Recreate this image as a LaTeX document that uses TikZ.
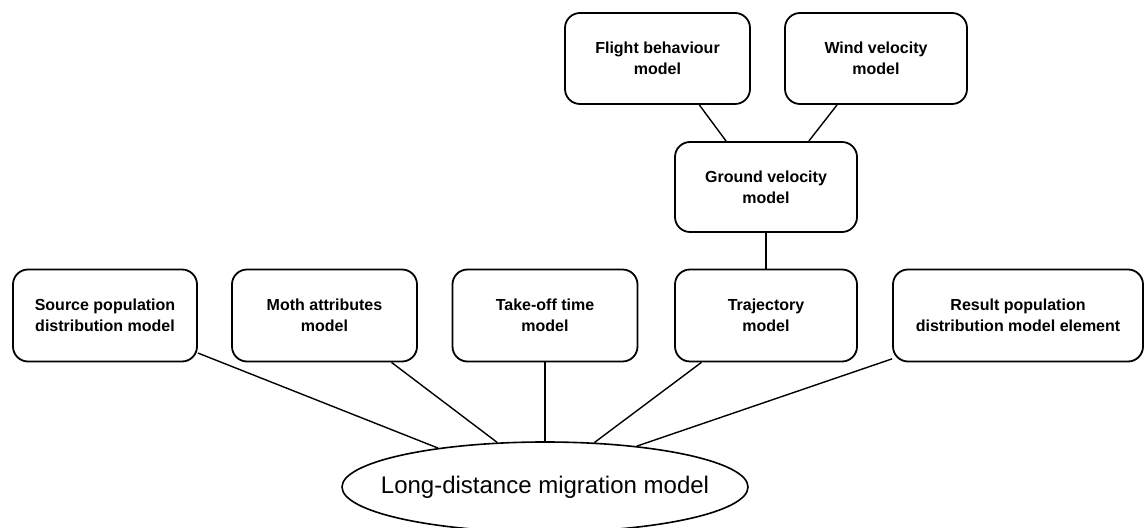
\documentclass[tikz,border=0pt]{standalone}
\usepackage{fontspec}
\setmainfont{Liberation Sans}
\usetikzlibrary{shapes.geometric}
\tikzset{
  model/.style={draw, line width=0.9pt, rounded corners=7.5pt, align=center,
    inner sep=0pt, minimum height=46pt,
    font=\fontsize{8}{10.5}\selectfont\bfseries},
  whole/.style={draw, line width=0.8pt, ellipse, inner sep=0pt,
    minimum width=203pt, minimum height=45pt, font=\fontsize{12}{14}\selectfont},
  link/.style={line width=0.7pt}
}
\begin{document}
\begin{tikzpicture}[x=0.5pt,y=-0.5pt]
\useasboundingbox (0,0) rectangle (1145,528);
% Top row of sub-models
\node (flight) at (657.5,58.5) [model, minimum width=92.5pt, minimum height=45.5pt] {Flight behaviour\\model};
\node (wind) at (876,58.5) [model, minimum width=91pt, minimum height=45.5pt] {Wind velocity\\model};
\node (ground) at (766,187) [model, minimum width=91pt, minimum height=45pt] {Ground velocity\\model};
% Row of models feeding the main model
\node (src) at (105,315.5) [model, minimum width=92pt] {Source population\\distribution model};
\node (moth) at (324.5,315.5) [model, minimum width=92.5pt] {Moth attributes\\model};
\node (takeoff) at (545,315.5) [model, minimum width=92.5pt] {Take-off time\\model};
\node (traj) at (766,315.5) [model, minimum width=91pt] {Trajectory\\model};
\node (result) at (1018,315.5) [model, minimum width=125pt] {Result population\\distribution model element};
% The main model, cut by the lower edge
\node (mig) at (545,487) [whole] {\makebox[0pt]{Long-distance migration model}};

% Connections
\draw[link] (flight.-48) -- (ground.131);
\draw[link] (wind.-130) -- (ground.47);
\draw[link] (ground) -- (traj);
\draw[link] (src.-22) -- (mig.160);
\draw[link] (moth.-35) -- (mig.137);
\draw[link] (takeoff) -- (mig);
\draw[link] (traj.-144) -- (mig.42);
\draw[link] (result.199) -- (mig.24);
\end{tikzpicture}
\end{document}
